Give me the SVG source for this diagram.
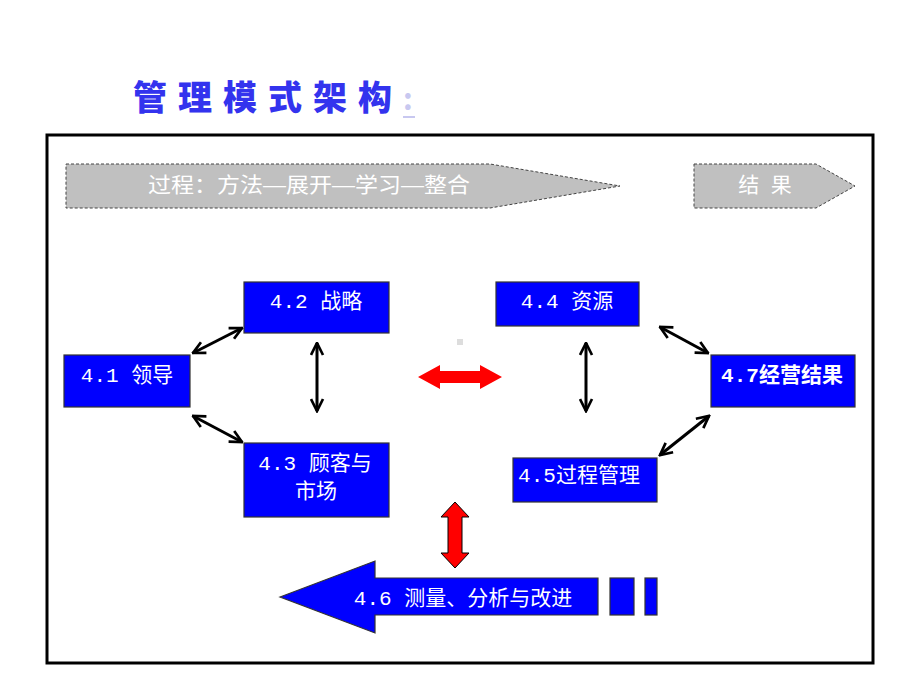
<svg xmlns="http://www.w3.org/2000/svg" width="920" height="690" viewBox="0 0 920 690">
<style>
.box{fill:#0000ff;stroke:#333;stroke-width:1.2}
.bt{fill:#fff;font-family:"Liberation Mono","Noto Sans CJK SC",monospace;font-size:21px;text-anchor:middle}
.gt{fill:#fff;font-family:"Liberation Sans","Noto Sans CJK SC",sans-serif;font-size:21px;text-anchor:middle}
.ba{stroke:#000;stroke-width:3;fill:none;marker-start:url(#ch);marker-end:url(#ch)}
.red{fill:#ff0000;stroke:#000;stroke-width:1}
</style>
<defs>
<marker id="ch" viewBox="0 0 10 10" refX="9" refY="5" markerWidth="5" markerHeight="5" orient="auto-start-reverse" markerUnits="strokeWidth">
<path d="M1,1 L9,5 L1,9" fill="none" stroke="#000" stroke-width="1.8"/>
</marker>
</defs>
<rect width="920" height="690" fill="#fff"/>
<g id="title">
<text x="133" y="110" font-family="'Noto Sans CJK SC',sans-serif" font-weight="900" font-size="34" fill="#3333ee" letter-spacing="11">管理模式架构<tspan fill="#c8c8f0" font-size="30" font-weight="bold" letter-spacing="0">:</tspan></text>
<line x1="403" y1="117" x2="415" y2="117" stroke="#c8c8f0" stroke-width="2"/>
</g>
<rect id="frame" x="47" y="135" width="826" height="528" fill="none" stroke="#000" stroke-width="3"/>
<g id="process">
<polygon points="66,164 490,164 620,186 490,208 66,208" fill="#c0c0c0" stroke="#444" stroke-width="1" stroke-dasharray="3,2"/>
<text class="gt" x="309" y="192" textLength="322" lengthAdjust="spacingAndGlyphs">过程：方法—展开—学习—整合</text>
</g>
<g id="result">
<polygon points="694,164 816,164 855,186 816,208 694,208" fill="#c0c0c0" stroke="#444" stroke-width="1" stroke-dasharray="3,2"/>
<text class="gt" x="765" y="192" xml:space="preserve">结  果</text>
</g>
<g id="n42"><rect class="box" x="244" y="282" width="145" height="51"/><text class="bt" x="316" y="308">4.2 战略</text></g>
<g id="n41"><rect class="box" x="64" y="355" width="126" height="52"/><text class="bt" x="127" y="382">4.1 领导</text></g>
<g id="n43"><rect class="box" x="244" y="443" width="145" height="74"/><text class="bt" x="315" y="470">4.3 顾客与</text><text class="bt" x="316" y="498">市场</text></g>
<g id="n44"><rect class="box" x="496" y="282" width="143" height="44"/><text class="bt" x="567" y="308">4.4 资源</text></g>
<g id="n47"><rect class="box" x="711" y="355" width="144" height="52"/><text class="bt" x="782" y="382" font-weight="bold">4.7经营结果</text></g>
<g id="n45"><rect class="box" x="513" y="458" width="144" height="44"/><text class="bt" x="579" y="482" font-size="19.5">4.5过程管理</text></g>
<g id="n46">
<polygon class="box" points="280,597 375,561 375,578 598,578 598,615 375,615 375,633"/>
<rect class="box" x="610" y="578" width="24" height="37"/>
<rect class="box" x="645" y="578" width="12" height="37"/>
<text class="bt" x="463" y="605" font-size="20.5">4.6 测量、分析与改进</text>
</g>
<g id="connectors">
<line class="ba" x1="193" y1="353" x2="242" y2="328"/>
<line class="ba" x1="193" y1="416" x2="242" y2="442"/>
<line class="ba" x1="317" y1="343" x2="317" y2="411"/>
<line class="ba" x1="586" y1="343" x2="586" y2="411" stroke-width="2"/>
<line class="ba" x1="660" y1="327" x2="708" y2="353"/>
<line class="ba" x1="660" y1="455" x2="709" y2="416"/>
<polygon points="418,377 440,365 440,371 480,371 480,365 502,377 480,389 480,383 440,383 440,389" fill="#ff0000"/>
<polygon class="red" points="455,502 469,517 462,517 462,553 469,553 455,568 441,553 448,553 448,517 441,517"/>
<rect x="457" y="339" width="6" height="6" fill="#ddd"/>
</g>
</svg>
